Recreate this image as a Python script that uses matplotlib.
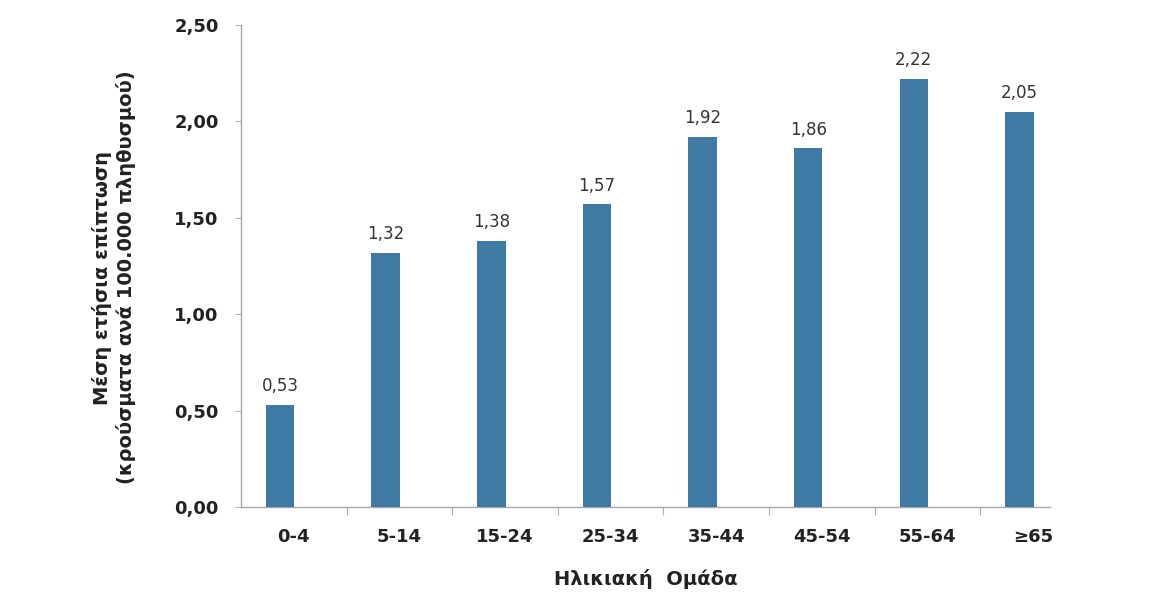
import matplotlib
matplotlib.use("Agg")
import matplotlib.pyplot as plt
import numpy as np

categories = ["0-4", "5-14", "15-24", "25-34", "35-44", "45-54", "55-64", "≥65"]
values = [0.53, 1.32, 1.38, 1.57, 1.92, 1.86, 2.22, 2.05]
yticks = [0.0, 0.5, 1.0, 1.5, 2.0, 2.5]
ylabel = "Μέση ετήσια επίπτωση\n(κρούσματα ανά 100.000 πληθυσμού)"
xlabel = "Ηλικιακή  Ομάδα"

plt.rcParams['font.family'] = ['DejaVu Sans']

fig = plt.figure(figsize=(11.71, 5.97), dpi=100)
ax = fig.add_axes([0.2058, 0.1508, 0.6909, 0.8072])

x = np.arange(len(categories))
bar_color = '#3e7aa3'
ax.bar(x, values, width=0.27, color=bar_color, zorder=3)

for xi, v in zip(x, values):
    ax.text(xi, v + 0.05, f"{v:.2f}".replace('.', ','), ha='center', va='bottom',
            fontsize=12, color='#333333')

ax.set_ylim(0, 2.5)
ax.set_xlim(-0.37, 7.29)
ax.set_yticks(yticks)
ax.set_yticklabels([f"{t:.2f}".replace('.', ',') for t in yticks],
                   fontsize=13, fontweight='bold', color='#222222')

# category boundaries as major ticks, labels centered in categories
ax.set_xticks(x[:-1] + 0.63)
ax.set_xticklabels([])
ax.set_xticks(x + 0.13, minor=True)
ax.set_xticklabels(categories, minor=True, fontsize=13, fontweight='bold', color='#222222')
ax.tick_params(axis='x', which='minor', length=0, pad=15)
ax.tick_params(axis='x', which='major', length=6, color='#b0b0b0', direction='out')
ax.tick_params(axis='y', length=4, color='#b0b0b0', direction='out', pad=12)

for s in ['top', 'right']:
    ax.spines[s].set_visible(False)
for s in ['left', 'bottom']:
    ax.spines[s].set_color('#a8a8a8')
    ax.spines[s].set_linewidth(1.0)

ax.set_xlabel(xlabel, fontsize=14, fontweight='bold', color='#222222', labelpad=17)
fig.text(0.097, 0.535, ylabel, rotation=90, ha='center', va='center',
         fontsize=14, fontweight='bold', color='#222222', linespacing=1.25)

fig.savefig("out.png", dpi=100, facecolor='white')
